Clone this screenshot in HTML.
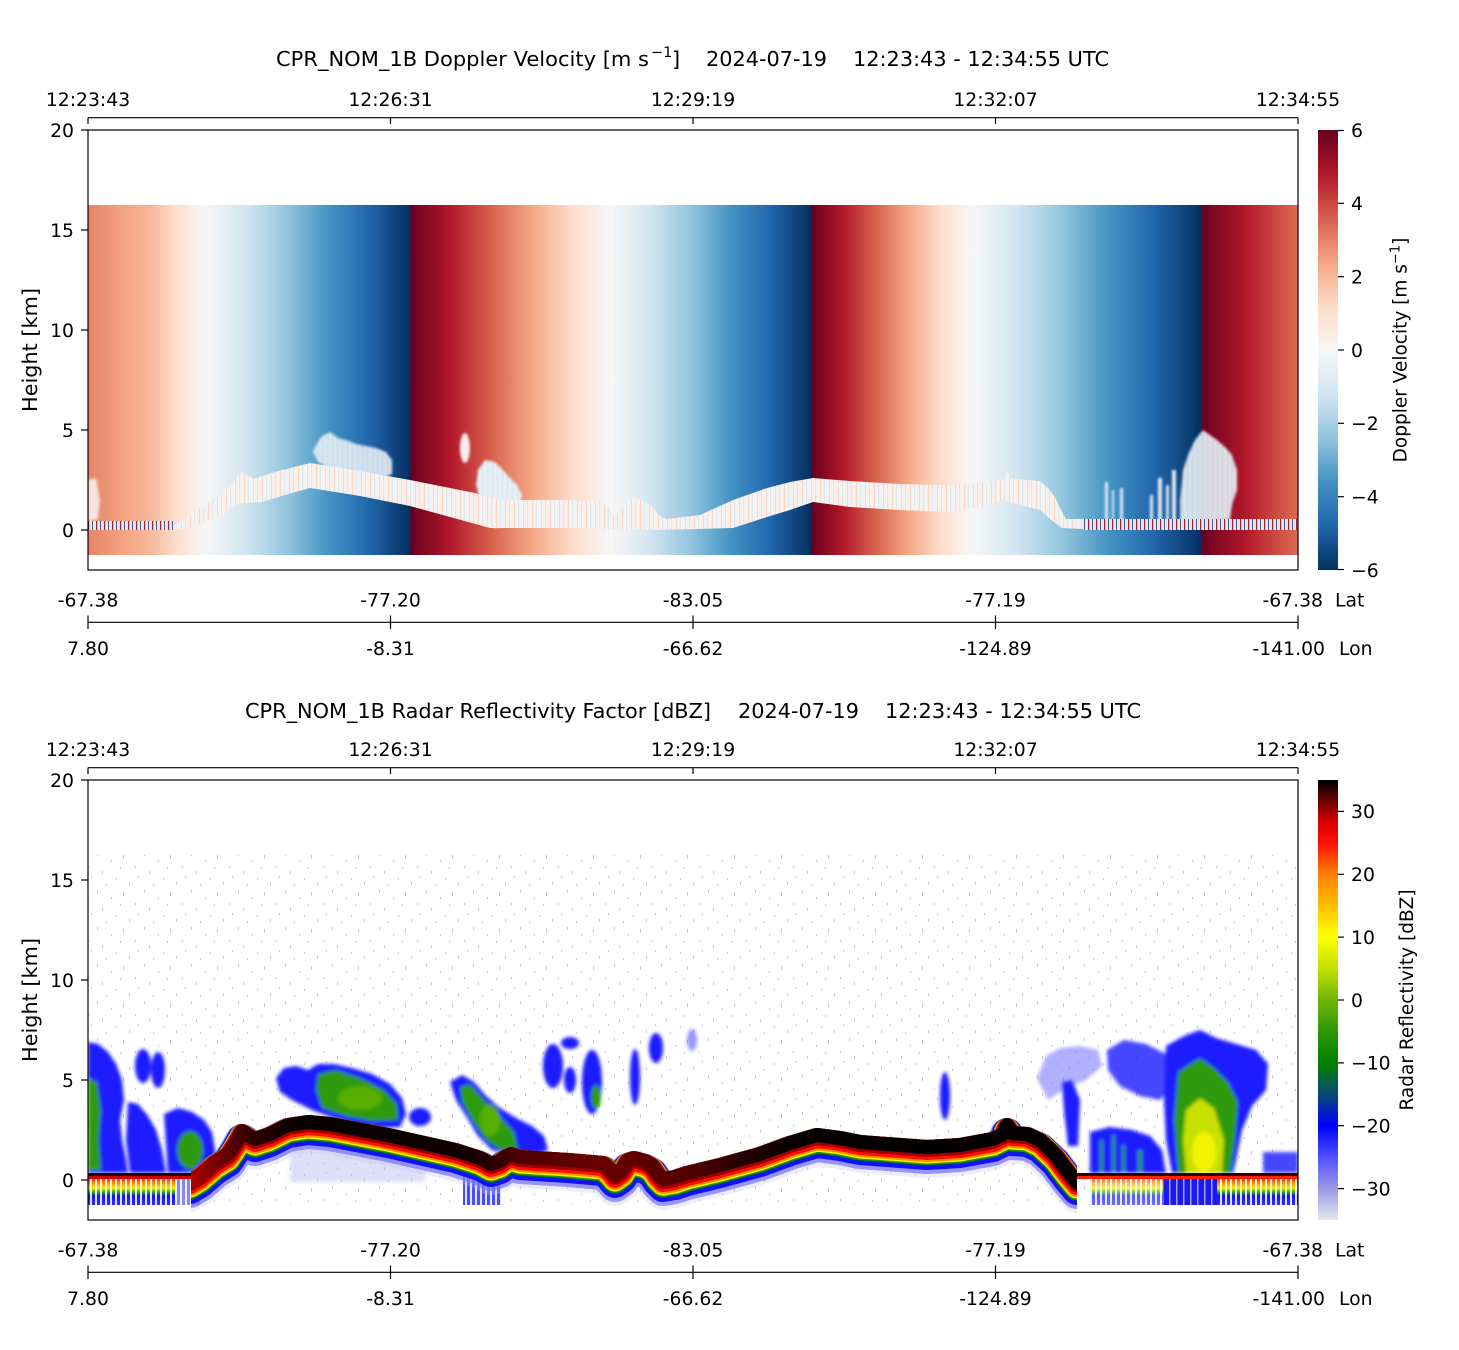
<!DOCTYPE html>
<html><head><meta charset="utf-8">
<style>
html,body{margin:0;padding:0;background:#fff;}
svg{display:block;}
text{font-family:"DejaVu Sans","Liberation Sans",sans-serif;fill:#000;}
</style></head>
<body>
<svg width="1459" height="1350" viewBox="0 0 1459 1350" xmlns="http://www.w3.org/2000/svg">
<defs>
  <linearGradient id="g1" x1="0" y1="0" x2="1" y2="0">
    <stop offset="0" stop-color="#e58367"/>
    <stop offset="0.115" stop-color="#f4a582"/>
    <stop offset="0.193" stop-color="#f7b799"/>
    <stop offset="0.267" stop-color="#fddbc7"/>
    <stop offset="0.363" stop-color="#f7f7f7"/>
    <stop offset="0.491" stop-color="#d1e5f0"/>
    <stop offset="0.618" stop-color="#92c5de"/>
    <stop offset="0.745" stop-color="#4393c3"/>
    <stop offset="0.873" stop-color="#2166ac"/>
    <stop offset="1" stop-color="#053061"/>
  </linearGradient>
  <linearGradient id="g2" x1="0" y1="0" x2="1" y2="0">
    <stop offset="0" stop-color="#67001f"/>
    <stop offset="0.1" stop-color="#b2182b"/>
    <stop offset="0.2" stop-color="#d6604d"/>
    <stop offset="0.3" stop-color="#f4a582"/>
    <stop offset="0.4" stop-color="#fddbc7"/>
    <stop offset="0.5" stop-color="#f7f7f7"/>
    <stop offset="0.6" stop-color="#d1e5f0"/>
    <stop offset="0.7" stop-color="#92c5de"/>
    <stop offset="0.8" stop-color="#4393c3"/>
    <stop offset="0.9" stop-color="#2166ac"/>
    <stop offset="1" stop-color="#053061"/>
  </linearGradient>
  <linearGradient id="g3" x1="0" y1="0" x2="1" y2="0">
    <stop offset="0" stop-color="#67001f"/>
    <stop offset="0.082" stop-color="#b2182b"/>
    <stop offset="0.164" stop-color="#d6604d"/>
    <stop offset="0.246" stop-color="#f4a582"/>
    <stop offset="0.328" stop-color="#fddbc7"/>
    <stop offset="0.410" stop-color="#f7f7f7"/>
    <stop offset="0.528" stop-color="#d1e5f0"/>
    <stop offset="0.646" stop-color="#92c5de"/>
    <stop offset="0.764" stop-color="#4393c3"/>
    <stop offset="0.882" stop-color="#2166ac"/>
    <stop offset="1" stop-color="#053061"/>
  </linearGradient>
  <linearGradient id="g4" x1="0" y1="0" x2="1" y2="0">
    <stop offset="0" stop-color="#67001f"/>
    <stop offset="0.46" stop-color="#b2182b"/>
    <stop offset="0.92" stop-color="#d6604d"/>
    <stop offset="1" stop-color="#d96a55"/>
  </linearGradient>
  <linearGradient id="cb1" x1="0" y1="0" x2="0" y2="1">
    <stop offset="0" stop-color="#67001f"/>
    <stop offset="0.1" stop-color="#b2182b"/>
    <stop offset="0.2" stop-color="#d6604d"/>
    <stop offset="0.3" stop-color="#f4a582"/>
    <stop offset="0.4" stop-color="#fddbc7"/>
    <stop offset="0.5" stop-color="#f7f7f7"/>
    <stop offset="0.6" stop-color="#d1e5f0"/>
    <stop offset="0.7" stop-color="#92c5de"/>
    <stop offset="0.8" stop-color="#4393c3"/>
    <stop offset="0.9" stop-color="#2166ac"/>
    <stop offset="1" stop-color="#053061"/>
  </linearGradient>
  <linearGradient id="cb2" x1="0" y1="0" x2="0" y2="1">
    <stop offset="0" stop-color="#000000"/>
    <stop offset="0.057" stop-color="#800000"/>
    <stop offset="0.1" stop-color="#e00000"/>
    <stop offset="0.143" stop-color="#ff1000"/>
    <stop offset="0.214" stop-color="#ff8000"/>
    <stop offset="0.286" stop-color="#ffc000"/>
    <stop offset="0.357" stop-color="#ffff00"/>
    <stop offset="0.429" stop-color="#c0e000"/>
    <stop offset="0.5" stop-color="#70b400"/>
    <stop offset="0.571" stop-color="#309800"/>
    <stop offset="0.643" stop-color="#008000"/>
    <stop offset="0.714" stop-color="#0a4a72"/>
    <stop offset="0.786" stop-color="#0000ff"/>
    <stop offset="0.857" stop-color="#5050ff"/>
    <stop offset="0.929" stop-color="#9a9ae6"/>
    <stop offset="1" stop-color="#e6e6ee"/>
  </linearGradient>
  <linearGradient id="blk" gradientUnits="userSpaceOnUse" x1="190" y1="0" x2="1077" y2="0">
    <stop offset="0" stop-color="#b00000"/>
    <stop offset="0.068" stop-color="#300000"/>
    <stop offset="0.124" stop-color="#080000"/>
    <stop offset="0.316" stop-color="#100000"/>
    <stop offset="0.372" stop-color="#500000"/>
    <stop offset="0.462" stop-color="#6a0000"/>
    <stop offset="0.564" stop-color="#500000"/>
    <stop offset="0.631" stop-color="#200000"/>
    <stop offset="0.688" stop-color="#050000"/>
    <stop offset="1" stop-color="#050000"/>
  </linearGradient>
  <linearGradient id="sg" x1="0" y1="0" x2="0" y2="1">
    <stop offset="0" stop-color="#ff4000"/>
    <stop offset="0.2" stop-color="#ffa000"/>
    <stop offset="0.35" stop-color="#f0f000"/>
    <stop offset="0.5" stop-color="#30b000"/>
    <stop offset="0.65" stop-color="#1010ff"/>
    <stop offset="1" stop-color="#3030ff"/>
  </linearGradient>
  <pattern id="bandPat" patternUnits="userSpaceOnUse" width="9" height="10">
    <rect width="9" height="10" fill="#f6f1ee"/>
    <rect x="1" width="1" height="10" fill="#f6d8c8"/>
    <rect x="5" width="1" height="10" fill="#dce8f0"/>
  </pattern>
  <pattern id="cloudPat" patternUnits="userSpaceOnUse" width="5" height="10">
    <rect width="5" height="10" fill="#eef3f7"/>
    <rect x="2" width="1.2" height="10" fill="#bcd6e8"/>
  </pattern>
  <pattern id="surfPat" patternUnits="userSpaceOnUse" width="8" height="10">
    <rect width="8" height="10" fill="#f1e4e0"/>
    <rect x="0" width="1.2" height="10" fill="#a0203a"/>
    <rect x="4" width="1" height="10" fill="#3060a0"/>
  </pattern>
  <pattern id="gaps" patternUnits="userSpaceOnUse" width="5" height="10">
    <rect x="0" width="2" height="10" fill="#ffffff" opacity="0.85"/>
  </pattern>
  <pattern id="gaps2" patternUnits="userSpaceOnUse" width="7" height="10">
    <rect x="0" width="1.5" height="10" fill="#ffffff" opacity="0.6"/>
  </pattern>
  <pattern id="noise" patternUnits="userSpaceOnUse" width="47" height="37">
    <g fill="#9c9cbc" opacity="0.55">
      <rect x="3" y="2" width="1" height="3"/>
      <rect x="17" y="9" width="1" height="2"/>
      <rect x="29" y="4" width="1" height="4"/>
      <rect x="41" y="15" width="1" height="2"/>
      <rect x="8" y="20" width="1" height="3"/>
      <rect x="22" y="27" width="1" height="2"/>
      <rect x="35" y="31" width="1" height="3"/>
      <rect x="12" y="33" width="1" height="2"/>
      <rect x="44" y="25" width="1" height="2"/>
      <rect x="26" y="16" width="1" height="2"/>
    </g>
  </pattern>
  <filter id="b1" x="-30%" y="-30%" width="160%" height="160%"><feGaussianBlur stdDeviation="1.3"/></filter>
  <filter id="b3" x="-10%" y="-10%" width="120%" height="120%"><feGaussianBlur stdDeviation="1.9"/></filter>
  <filter id="b2" x="-30%" y="-30%" width="160%" height="160%"><feGaussianBlur stdDeviation="2.2"/></filter>
  <clipPath id="c1"><rect x="88" y="130" width="1210" height="440"/></clipPath>
  <clipPath id="c2"><rect x="88" y="780" width="1210" height="440"/></clipPath>
  <clipPath id="cb"><rect x="191" y="1090" width="886" height="130"/></clipPath>
  <path id="S" fill="none" d="M160,1174 L190,1174 L200,1168 L215,1155 L228,1147 L236,1135 L242,1124 L248,1128 L255,1132 L270,1127 L288,1118 L308,1115 L330,1117 L388,1128 L455,1143 L480,1151 L491,1157 L500,1154 L505,1150 L511,1147 L520,1150 L568,1153 L603,1156 L610,1162 L615,1168 L622,1163 L628,1153 L634,1151 L645,1154 L652,1158 L658,1167 L663,1172 L675,1170 L687,1166 L720,1158 L760,1147 L790,1136 L817,1128 L840,1131 L860,1135 L927,1140 L960,1138 L993,1132 L1003,1127 L1007,1118 L1012,1126 L1027,1127 L1040,1133 L1055,1147 L1067,1163 L1077,1175 L1110,1176"/>
</defs>

<!-- ================= TOP PANEL ================= -->
<text x="276" y="66" font-size="20.8" textLength="373" lengthAdjust="spacingAndGlyphs">CPR_NOM_1B Doppler Velocity [m s</text>
<text x="651" y="57" font-size="14.5">−1</text>
<text x="672" y="66" font-size="20.8">]</text>
<text x="706" y="66" font-size="20.8" textLength="121" lengthAdjust="spacingAndGlyphs">2024-07-19</text>
<text x="853" y="66" font-size="20.8" textLength="256" lengthAdjust="spacingAndGlyphs">12:23:43 - 12:34:55 UTC</text>

<g stroke="#000" stroke-width="1.2">
  <line x1="88" y1="117.7" x2="1298" y2="117.7"/>
  <line x1="88" y1="117.7" x2="88" y2="124"/>
  <line x1="390.5" y1="117.7" x2="390.5" y2="124"/>
  <line x1="693" y1="117.7" x2="693" y2="124"/>
  <line x1="995.5" y1="117.7" x2="995.5" y2="124"/>
  <line x1="1298" y1="117.7" x2="1298" y2="124"/>
</g>
<g font-size="18.8" text-anchor="middle">
  <text x="88" y="106">12:23:43</text>
  <text x="390.5" y="106">12:26:31</text>
  <text x="693" y="106">12:29:19</text>
  <text x="995.5" y="106">12:32:07</text>
  <text x="1298" y="106">12:34:55</text>
</g>

<g clip-path="url(#c1)">
  <rect x="88" y="205" width="322.5" height="350" fill="url(#g1)"/>
  <rect x="410.5" y="205" width="400.5" height="350" fill="url(#g2)"/>
  <rect x="811" y="205" width="390" height="350" fill="url(#g3)"/>
  <rect x="1201" y="205" width="97" height="350" fill="url(#g4)"/>
  <polygon points="88,480 96,478 100,500 98,520 88,521" fill="#f6e3da" filter="url(#b1)"/>
  <g filter="url(#b1)">
    <polygon points="316,445 322,436 330,432 338,438 346,440 356,444 366,446 376,448 386,452 392,460 392,474 384,478 370,476 350,472 330,468 318,462 313,452" fill="url(#cloudPat)" opacity="0.9"/>
    <ellipse cx="465" cy="448" rx="5" ry="15" fill="#f7eee9"/>
    <polygon points="478,470 485,460 495,462 503,470 510,478 517,485 522,495 518,510 510,525 495,528 485,520 480,500 476,485" fill="url(#cloudPat)"/>
    <polygon points="1180,500 1183,470 1188,455 1195,440 1203,430 1210,435 1217,440 1225,447 1232,455 1237,470 1237,490 1232,505 1230,520 1180,522" fill="url(#cloudPat)" opacity="0.92"/>
    <g fill="#e0ecf4">
      <rect x="1105" y="482" width="3" height="40"/>
      <rect x="1112" y="490" width="2" height="30"/>
      <rect x="1120" y="488" width="3" height="34"/>
      <rect x="1150" y="495" width="3" height="25"/>
      <rect x="1158" y="478" width="4" height="45"/>
      <rect x="1166" y="485" width="3" height="37"/>
      <rect x="1172" y="470" width="4" height="52"/>
    </g>
  </g>
  <polygon fill="url(#bandPat)" points="172,526 185,519 200,509 215,498 228,488 236,478 241,472 247,475 254,479 262,476 275,472 290,468 310,463 330,466 360,471 410,480 450,488 475,493 490,497 500,500 530,500 567,500 600,502 608,508 615,516 621,511 628,501 634,498 645,502 653,508 660,516 666,519 700,515 733,500 767,488 790,482 813,478 850,481 900,484 950,485 990,482 1003,479 1007,471 1011,478 1027,480 1040,481 1048,488 1055,497 1061,510 1066,519 1083,519 1083,529 1062,528 1050,519 1040,510 1020,505 1003,500 990,505 950,512 900,510 850,507 813,502 790,510 767,517 733,528 660,530 600,529 567,528 520,528 490,528 450,517 410,506 360,496 310,488 285,495 262,502 240,503 225,512 210,520 195,527 172,530"/>
  <rect x="88" y="521" width="85" height="9" fill="url(#surfPat)"/>
  <rect x="1083" y="519" width="215" height="11" fill="url(#surfPat)"/>
</g>

<rect x="88" y="130" width="1210" height="440" fill="none" stroke="#000" stroke-width="1.2"/>
<g stroke="#000" stroke-width="1.2">
  <line x1="81" y1="130" x2="88" y2="130"/>
  <line x1="81" y1="230" x2="88" y2="230"/>
  <line x1="81" y1="330" x2="88" y2="330"/>
  <line x1="81" y1="430" x2="88" y2="430"/>
  <line x1="81" y1="530" x2="88" y2="530"/>
</g>
<g font-size="18.8" text-anchor="end">
  <text x="74" y="136.8">20</text>
  <text x="74" y="236.8">15</text>
  <text x="74" y="336.8">10</text>
  <text x="74" y="436.8">5</text>
  <text x="74" y="536.8">0</text>
</g>
<text transform="translate(37,350) rotate(-90)" text-anchor="middle" font-size="20.8">Height [km]</text>

<g font-size="18.8" text-anchor="middle">
  <text x="88" y="606.5">-67.38</text>
  <text x="390.5" y="606.5">-77.20</text>
  <text x="693" y="606.5">-83.05</text>
  <text x="995.5" y="606.5">-77.19</text>
  <text x="88" y="655">7.80</text>
  <text x="390.5" y="655">-8.31</text>
  <text x="693" y="655">-66.62</text>
  <text x="995.5" y="655">-124.89</text>
</g>
<g font-size="18.8">
  <text x="1323" y="606.5" text-anchor="end">-67.38</text>
  <text x="1335" y="606.5">Lat</text>
  <text x="1325" y="655" text-anchor="end">-141.00</text>
  <text x="1339" y="655">Lon</text>
</g>
<g stroke="#000" stroke-width="1.2">
  <line x1="88" y1="622.3" x2="1298" y2="622.3"/>
  <line x1="88" y1="615.5" x2="88" y2="629"/>
  <line x1="390.5" y1="615.5" x2="390.5" y2="629"/>
  <line x1="693" y1="615.5" x2="693" y2="629"/>
  <line x1="995.5" y1="615.5" x2="995.5" y2="629"/>
  <line x1="1298" y1="615.5" x2="1298" y2="629"/>
</g>

<rect x="1318" y="130" width="20" height="440" fill="url(#cb1)"/>
<g stroke="#000" stroke-width="1.2">
  <line x1="1338" y1="130.5" x2="1344" y2="130.5"/>
  <line x1="1338" y1="203.3" x2="1344" y2="203.3"/>
  <line x1="1338" y1="276.7" x2="1344" y2="276.7"/>
  <line x1="1338" y1="350" x2="1344" y2="350"/>
  <line x1="1338" y1="423.3" x2="1344" y2="423.3"/>
  <line x1="1338" y1="496.7" x2="1344" y2="496.7"/>
  <line x1="1338" y1="569.5" x2="1344" y2="569.5"/>
</g>
<g font-size="18.8">
  <text x="1351" y="137">6</text>
  <text x="1351" y="210.1">4</text>
  <text x="1351" y="283.5">2</text>
  <text x="1351" y="356.8">0</text>
  <text x="1351" y="430.1">−2</text>
  <text x="1351" y="503.5">−4</text>
  <text x="1351" y="576.8">−6</text>
</g>
<text transform="translate(1406.5,350) rotate(-90)" text-anchor="middle" font-size="18.5">Doppler Velocity [m s<tspan dy="-7" font-size="13">−1</tspan><tspan dy="7">]</tspan></text>

<!-- ================= BOTTOM PANEL ================= -->
<text x="245" y="718" font-size="20.8" textLength="466" lengthAdjust="spacingAndGlyphs">CPR_NOM_1B Radar Reflectivity Factor [dBZ]</text>
<text x="738" y="718" font-size="20.8" textLength="121" lengthAdjust="spacingAndGlyphs">2024-07-19</text>
<text x="885" y="718" font-size="20.8" textLength="256" lengthAdjust="spacingAndGlyphs">12:23:43 - 12:34:55 UTC</text>

<g stroke="#000" stroke-width="1.2">
  <line x1="88" y1="767.7" x2="1298" y2="767.7"/>
  <line x1="88" y1="767.7" x2="88" y2="774"/>
  <line x1="390.5" y1="767.7" x2="390.5" y2="774"/>
  <line x1="693" y1="767.7" x2="693" y2="774"/>
  <line x1="995.5" y1="767.7" x2="995.5" y2="774"/>
  <line x1="1298" y1="767.7" x2="1298" y2="774"/>
</g>
<g font-size="18.8" text-anchor="middle">
  <text x="88" y="756">12:23:43</text>
  <text x="390.5" y="756">12:26:31</text>
  <text x="693" y="756">12:29:19</text>
  <text x="995.5" y="756">12:32:07</text>
  <text x="1298" y="756">12:34:55</text>
</g>

<g clip-path="url(#c2)">
  <rect x="88" y="855" width="1210" height="350" fill="url(#noise)"/>
  <polygon points="290,1146 340,1148 390,1158 425,1168 425,1182 290,1182" fill="#b8b8f0" opacity="0.45" filter="url(#b2)"/>
  <g filter="url(#b3)">
    <g fill="#1a1aff">
      <polygon points="88,1042 98,1044 108,1052 116,1064 122,1080 124,1100 120,1120 122,1140 126,1160 128,1173 88,1173"/>
      <ellipse cx="143" cy="1066" rx="8" ry="17"/>
      <ellipse cx="158" cy="1070" rx="7" ry="18"/>
      <polygon points="128,1102 138,1104 148,1116 156,1130 162,1150 166,1173 130,1173 126,1140"/>
      <polygon points="164,1114 178,1108 192,1112 204,1120 212,1132 215,1150 214,1172 168,1173"/>
      <polygon points="276,1078 284,1068 296,1066 308,1070 318,1064 334,1064 352,1068 372,1074 390,1084 402,1098 406,1114 400,1127 380,1128 358,1125 334,1118 312,1110 292,1100 280,1092"/>
      <ellipse cx="420" cy="1117" rx="11" ry="9"/>
      <polygon points="450,1082 462,1075 474,1082 486,1096 500,1108 516,1118 532,1126 544,1136 548,1150 530,1156 510,1154 492,1150 478,1136 466,1116 456,1100"/>
      <ellipse cx="553" cy="1066" rx="10" ry="22"/>
      <ellipse cx="570" cy="1043" rx="9" ry="6"/>
      <ellipse cx="570" cy="1080" rx="6" ry="13"/>
      <ellipse cx="592" cy="1082" rx="10" ry="32"/>
      <ellipse cx="635" cy="1077" rx="5" ry="28"/>
      <ellipse cx="656" cy="1048" rx="7" ry="15"/>
      <ellipse cx="692" cy="1040" rx="5" ry="11" opacity="0.45"/>
      <ellipse cx="945" cy="1096" rx="5" ry="24"/>
      <polygon points="1037,1078 1046,1056 1060,1048 1080,1046 1098,1050 1102,1066 1086,1080 1066,1088 1048,1100" fill="#7070ff" opacity="0.55"/>
      <polygon points="1062,1082 1072,1080 1080,1100 1078,1146 1068,1146 1064,1110"/>
      <polygon points="1107,1050 1124,1040 1146,1044 1166,1054 1170,1088 1160,1100 1140,1096 1120,1086 1108,1070" opacity="0.8"/>
      <polygon points="1166,1046 1184,1036 1200,1030 1216,1038 1236,1044 1256,1050 1268,1064 1266,1090 1252,1106 1242,1130 1236,1160 1233,1173 1172,1173 1166,1140 1164,1100"/>
      <polygon points="1090,1132 1110,1127 1132,1130 1150,1136 1162,1150 1166,1173 1090,1173"/>
      <rect x="1263" y="1152" width="35" height="21" opacity="0.8"/>
    </g>
    <g fill="#2f9a10">
      <polygon points="88,1078 97,1082 101,1110 99,1140 101,1170 88,1170"/>
      <ellipse cx="190" cy="1150" rx="13" ry="19"/>
      <polygon points="318,1074 336,1070 360,1078 384,1090 397,1104 398,1120 372,1121 345,1116 322,1108 316,1090"/>
      <polygon points="460,1087 470,1084 484,1100 500,1116 514,1132 518,1150 500,1150 486,1140 472,1120 462,1102"/>
      <ellipse cx="596" cy="1097" rx="5" ry="12"/>
      <polygon points="1178,1072 1190,1064 1200,1058 1214,1068 1228,1082 1238,1102 1235,1140 1230,1173 1178,1173 1174,1120"/>
      <rect x="1100" y="1140" width="3" height="33"/>
      <rect x="1112" y="1135" width="3" height="38"/>
      <rect x="1122" y="1145" width="3" height="28"/>
      <rect x="1138" y="1150" width="4" height="23"/>
    </g>
    <g fill="#6cb800" opacity="0.7">
      <ellipse cx="360" cy="1098" rx="22" ry="12"/>
      <ellipse cx="490" cy="1120" rx="10" ry="16"/>
    </g>
    <polygon points="1186,1110 1200,1098 1214,1108 1224,1140 1222,1173 1186,1173 1183,1140" fill="#c8e000"/>
    <ellipse cx="1204" cy="1152" rx="12" ry="20" fill="#f4f400"/>
  </g>

  <rect x="88" y="1179" width="87" height="26" fill="url(#sg)"/>
  <rect x="88" y="1179" width="87" height="26" fill="url(#gaps)"/>
  <rect x="175" y="1176" width="25" height="29" fill="#8a8ae6"/>
  <rect x="175" y="1176" width="25" height="29" fill="url(#gaps)"/>
  <rect x="463" y="1176" width="38" height="29" fill="#4a4aff"/>
  <rect x="463" y="1176" width="38" height="29" fill="url(#gaps)"/>
  <rect x="1090" y="1179" width="73" height="26" fill="url(#sg)" opacity="0.7"/>
  <rect x="1090" y="1179" width="73" height="26" fill="url(#gaps)"/>
  <rect x="1163" y="1179" width="54" height="26" fill="#1a1af0"/>
  <rect x="1163" y="1179" width="54" height="26" fill="url(#gaps2)"/>
  <rect x="1217" y="1179" width="81" height="26" fill="url(#sg)"/>
  <rect x="1217" y="1179" width="81" height="26" fill="url(#gaps)"/>

  <rect x="88" y="1173" width="104" height="3" fill="#200000"/>
  <rect x="88" y="1176" width="104" height="3" fill="#d00000"/>
  <rect x="1077" y="1173" width="221" height="3" fill="#300000"/>
  <rect x="1077" y="1176" width="221" height="3" fill="#ff2000"/>

  <g stroke-linejoin="round" clip-path="url(#cb)">
    <use href="#S" stroke="#c4c4f2" stroke-width="38" opacity="0.3" transform="translate(0,19)"/>
    <use href="#S" stroke="#7070ff" stroke-width="34" opacity="0.7" transform="translate(0,17)"/>
    <use href="#S" stroke="#1010ff" stroke-width="30" transform="translate(0,15)"/>
    <use href="#S" stroke="#0a4a60" stroke-width="26" transform="translate(0,13)"/>
    <use href="#S" stroke="#1a9a00" stroke-width="25" transform="translate(0,12.5)"/>
    <use href="#S" stroke="#f0f000" stroke-width="23.5" transform="translate(0,11.75)"/>
    <use href="#S" stroke="#ff9000" stroke-width="22" transform="translate(0,11)"/>
    <use href="#S" stroke="#ff1000" stroke-width="20" transform="translate(0,10)"/>
    <use href="#S" stroke="#a00000" stroke-width="17" transform="translate(0,8.5)"/>
    <use href="#S" stroke="url(#blk)" stroke-width="14" transform="translate(0,7)"/>
  </g>
</g>

<rect x="88" y="780" width="1210" height="440" fill="none" stroke="#000" stroke-width="1.2"/>
<g stroke="#000" stroke-width="1.2">
  <line x1="81" y1="780" x2="88" y2="780"/>
  <line x1="81" y1="880" x2="88" y2="880"/>
  <line x1="81" y1="980" x2="88" y2="980"/>
  <line x1="81" y1="1080" x2="88" y2="1080"/>
  <line x1="81" y1="1180" x2="88" y2="1180"/>
</g>
<g font-size="18.8" text-anchor="end">
  <text x="74" y="786.8">20</text>
  <text x="74" y="886.8">15</text>
  <text x="74" y="986.8">10</text>
  <text x="74" y="1086.8">5</text>
  <text x="74" y="1186.8">0</text>
</g>
<text transform="translate(37,1000) rotate(-90)" text-anchor="middle" font-size="20.8">Height [km]</text>

<g font-size="18.8" text-anchor="middle">
  <text x="88" y="1256.5">-67.38</text>
  <text x="390.5" y="1256.5">-77.20</text>
  <text x="693" y="1256.5">-83.05</text>
  <text x="995.5" y="1256.5">-77.19</text>
  <text x="88" y="1305">7.80</text>
  <text x="390.5" y="1305">-8.31</text>
  <text x="693" y="1305">-66.62</text>
  <text x="995.5" y="1305">-124.89</text>
</g>
<g font-size="18.8">
  <text x="1323" y="1256.5" text-anchor="end">-67.38</text>
  <text x="1335" y="1256.5">Lat</text>
  <text x="1325" y="1305" text-anchor="end">-141.00</text>
  <text x="1339" y="1305">Lon</text>
</g>
<g stroke="#000" stroke-width="1.2">
  <line x1="88" y1="1272.3" x2="1298" y2="1272.3"/>
  <line x1="88" y1="1265.5" x2="88" y2="1279"/>
  <line x1="390.5" y1="1265.5" x2="390.5" y2="1279"/>
  <line x1="693" y1="1265.5" x2="693" y2="1279"/>
  <line x1="995.5" y1="1265.5" x2="995.5" y2="1279"/>
  <line x1="1298" y1="1265.5" x2="1298" y2="1279"/>
</g>

<rect x="1318" y="780" width="20" height="440" fill="url(#cb2)"/>
<g stroke="#000" stroke-width="1.2">
  <line x1="1338" y1="811.4" x2="1344" y2="811.4"/>
  <line x1="1338" y1="874.3" x2="1344" y2="874.3"/>
  <line x1="1338" y1="937.1" x2="1344" y2="937.1"/>
  <line x1="1338" y1="1000" x2="1344" y2="1000"/>
  <line x1="1338" y1="1062.9" x2="1344" y2="1062.9"/>
  <line x1="1338" y1="1125.7" x2="1344" y2="1125.7"/>
  <line x1="1338" y1="1188.6" x2="1344" y2="1188.6"/>
</g>
<g font-size="18.8">
  <text x="1351" y="818.2">30</text>
  <text x="1351" y="881.1">20</text>
  <text x="1351" y="943.9">10</text>
  <text x="1351" y="1006.8">0</text>
  <text x="1351" y="1069.7">−10</text>
  <text x="1351" y="1132.5">−20</text>
  <text x="1351" y="1195.4">−30</text>
</g>
<text transform="translate(1413,1000) rotate(-90)" text-anchor="middle" font-size="18.5">Radar Reflectivity [dBZ]</text>
</svg>
</body></html>
